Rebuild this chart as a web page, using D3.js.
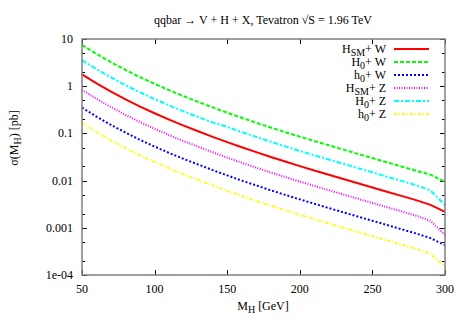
<!DOCTYPE html>
<meta charset="utf-8">
<style>
  body {
    margin: 0;
    background: #fff;
  }
  text {
    font-family: "Liberation Serif", "DejaVu Serif", serif;
    font-size: 12px;
    fill: #000;
  }
</style>
<body>
  <script src="https://d3js.org/d3.v7.min.js"></script>
  <script>
    // M_H grid (GeV) and cross sections (pb)
    var masses = [50, 60, 70, 80, 90, 100, 110, 120, 130, 140, 150, 160, 170, 180, 190,
                  200, 210, 220, 230, 240, 250, 260, 270, 280, 290, 300];

    var hsmW = [1.78, 1.15, 0.766, 0.526, 0.370, 0.267, 0.196, 0.146, 0.111, 0.0846, 0.0653,
                0.0509, 0.0401, 0.0317, 0.0253, 0.0203, 0.0164, 0.0133, 0.0108, 0.00877,
                0.00714, 0.00582, 0.00474, 0.00386, 0.00307, 0.00217];
    var bigH0W = [7.48, 4.83, 3.22, 2.21, 1.55, 1.12, 0.823, 0.613, 0.466, 0.355, 0.274,
                  0.214, 0.168, 0.133, 0.106, 0.0853, 0.0689, 0.0559, 0.0454, 0.0368,
                  0.0300, 0.0244, 0.0199, 0.0162, 0.0134, 0.0094];
    var smallH0W = [0.351, 0.227, 0.151, 0.104, 0.0729, 0.0526, 0.0386, 0.0288, 0.0219,
                    0.0167, 0.0129, 0.0100, 0.0079, 0.00624, 0.00498, 0.0040, 0.00323,
                    0.00262, 0.00213, 0.00173, 0.00141, 0.00115, 0.000934, 0.00076,
                    0.000605, 0.000428];
    var hsmZ = [0.837, 0.541, 0.360, 0.247, 0.174, 0.125, 0.0921, 0.0686, 0.0522, 0.0398,
                0.0307, 0.0239, 0.0188, 0.0149, 0.0119, 0.00954, 0.00771, 0.00625, 0.00508,
                0.00412, 0.00336, 0.00274, 0.00223, 0.00181, 0.00140, 0.00071];
    var bigH0Z = [3.56, 2.30, 1.53, 1.05, 0.740, 0.534, 0.392, 0.292, 0.222, 0.171, 0.137,
                  0.107, 0.0842, 0.0666, 0.0531, 0.0426, 0.0344, 0.0279, 0.0227, 0.0184,
                  0.0150, 0.0121, 0.00986, 0.00803, 0.00620, 0.00304];
    var smallH0Z = [0.166, 0.107, 0.0712, 0.0489, 0.0344, 0.0248, 0.0182, 0.0136, 0.0103,
                    0.00787, 0.00607, 0.00473, 0.00373, 0.00295, 0.00235, 0.00189, 0.00153,
                    0.00124, 0.00100, 0.000816, 0.000664, 0.000541, 0.000441, 0.000359,
                    0.000280, 0.000148];

    var xTicks = [50, 100, 150, 200, 250, 300];
    var yTicks = [10, 1, 0.1, 0.01, 0.001, 0.0001];
    var yTickLabels = ["10", "1", "0.1", "0.01", "0.001", "1e-04"];

    var series = [
      { name: "H", sub: "SM", boson: "W", values: hsmW,     color: "#ff0000", dash: null },
      { name: "H", sub: "0",  boson: "W", values: bigH0W,   color: "#00ff00", dash: "4,2" },
      { name: "h", sub: "0",  boson: "W", values: smallH0W, color: "#0000ff", dash: "2,2" },
      { name: "H", sub: "SM", boson: "Z", values: hsmZ,     color: "#ff00ff", dash: "1,1.5" },
      { name: "H", sub: "0",  boson: "Z", values: bigH0Z,   color: "#00ffff", dash: "5,2,2,2" },
      { name: "h", sub: "0",  boson: "Z", values: smallH0Z, color: "#ffff00", dash: "3,2,1,2" }
    ];

    var width = 467,
    height = 327,
    pLeft = 82, pRight = 445, pTop = 39, pBottom = 275;

    var x = d3.scaleLinear().domain([50, 300]).range([pLeft, pRight]);
    var y = d3.scaleLog().domain([1e-4, 10]).range([pBottom, pTop]);

    var svg = d3.select("body").append("svg")
    .attr("width", width)
    .attr("height", height);

    // title
    svg.append("text")
    .attr("x", 263).attr("y", 24)
    .attr("text-anchor", "middle")
    .text("qqbar \u2192 V + H + X, Tevatron \u221AS = 1.96 TeV");

    // minor y ticks at 2 and 5 of each decade
    var minor = [];
    for (var e = -4; e < 1; e++) {
      minor.push(2 * Math.pow(10, e), 5 * Math.pow(10, e));
    }

    var ticks = svg.append("g").attr("stroke", "#000").attr("stroke-width", 1);
    yTicks.forEach(function(v) {
      var yy = Math.round(y(v)) + 0.5;
      ticks.append("line").attr("x1", pLeft).attr("x2", pLeft + 5).attr("y1", yy).attr("y2", yy);
      ticks.append("line").attr("x1", pRight).attr("x2", pRight - 5).attr("y1", yy).attr("y2", yy);
    });
    minor.forEach(function(v) {
      var yy = Math.round(y(v)) + 0.5;
      ticks.append("line").attr("x1", pLeft).attr("x2", pLeft + 3).attr("y1", yy).attr("y2", yy);
      ticks.append("line").attr("x1", pRight).attr("x2", pRight - 3).attr("y1", yy).attr("y2", yy);
    });
    xTicks.forEach(function(v) {
      var xx = Math.round(x(v)) + 0.5;
      ticks.append("line").attr("x1", xx).attr("x2", xx).attr("y1", pBottom).attr("y2", pBottom - 5);
      ticks.append("line").attr("x1", xx).attr("x2", xx).attr("y1", pTop).attr("y2", pTop + 5);
    });

    svg.selectAll(".ylab")
    .data(yTicks)
    .enter().append("text")
    .attr("x", pLeft - 9)
    .attr("y", function(d) { return y(d) + 4; })
    .attr("text-anchor", "end")
    .text(function(d, i) { return yTickLabels[i]; });

    svg.selectAll(".xlab")
    .data(xTicks)
    .enter().append("text")
    .attr("x", function(d) { return x(d); })
    .attr("y", pBottom + 18)
    .attr("text-anchor", "middle")
    .text(function(d) { return d; });

    // axis titles
    var xt = svg.append("text").attr("x", 263).attr("y", 310).attr("text-anchor", "middle");
    xt.append("tspan").text("M");
    xt.append("tspan").attr("dy", 3).attr("font-size", "10px").text("H");
    xt.append("tspan").attr("dy", -3).text(" [GeV]");

    var yt = svg.append("text")
    .attr("transform", "translate(18,138) rotate(-90)")
    .attr("text-anchor", "middle");
    yt.append("tspan").text("\u03C3(M");
    yt.append("tspan").attr("dy", 3).attr("font-size", "10px").text("H");
    yt.append("tspan").attr("dy", -3).text(")  [pb]");

    // curves
    var line = d3.line()
    .x(function(d) { return x(d[0]); })
    .y(function(d) { return y(d[1]); });

    var plot = svg.append("g");
    series.forEach(function(s) {
      plot.append("path")
      .datum(masses.map(function(m, i) { return [m, s.values[i]]; }))
      .attr("fill", "none")
      .attr("stroke", s.color)
      .attr("stroke-width", 2)
      .attr("stroke-dasharray", s.dash)
      .attr("d", line);
    });

    // legend
    var leg = svg.append("g");
    series.forEach(function(s, i) {
      var ly = 49 + i * 13;
      var t = leg.append("text")
      .attr("x", 386).attr("y", ly + 4)
      .attr("text-anchor", "end");
      t.append("tspan").text(s.name);
      t.append("tspan").attr("dy", 3).attr("font-size", "10px").text(s.sub);
      t.append("tspan").attr("dy", -3).text("+ " + s.boson);
      leg.append("line")
      .attr("x1", 394).attr("x2", 429)
      .attr("y1", ly).attr("y2", ly)
      .attr("stroke", s.color)
      .attr("stroke-width", 2)
      .attr("stroke-dasharray", s.dash);
    });

    // frame
    svg.append("rect")
    .attr("x", pLeft).attr("y", pTop)
    .attr("width", pRight - pLeft).attr("height", pBottom - pTop)
    .attr("fill", "none")
    .attr("stroke", "#808080")
    .attr("stroke-width", 1.5);
  </script>
</body>
